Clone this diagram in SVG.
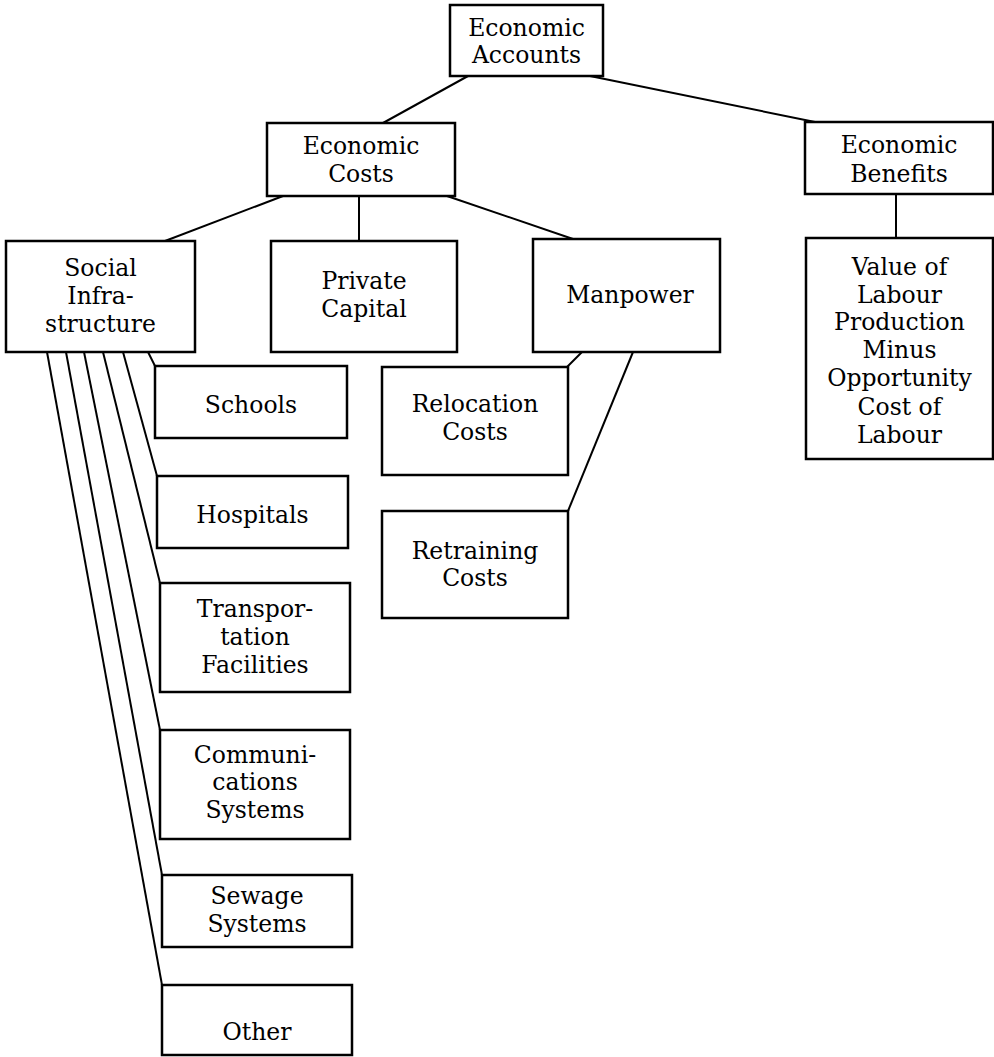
<svg xmlns="http://www.w3.org/2000/svg" width="994" height="1057" viewBox="0 0 994 1057">
<style>
rect{fill:#fff;stroke:#000;stroke-width:2.5}
line{stroke:#000;stroke-width:2}
text{font-family:"DejaVu Serif","Liberation Serif",serif;font-size:23.5px;fill:#000;text-anchor:middle}
</style>
<rect x="0" y="0" width="994" height="1057" style="stroke:none"/>
<g id="connectors">
<line x1="468" y1="76" x2="383" y2="123"/>
<line x1="590" y1="76" x2="815" y2="122"/>
<line x1="283" y1="196" x2="165" y2="241"/>
<line x1="359" y1="196" x2="359" y2="241"/>
<line x1="447" y1="196" x2="573" y2="239"/>
<line x1="896" y1="194" x2="896" y2="238"/>
<line x1="582" y1="352" x2="567" y2="367"/>
<line x1="633" y1="352" x2="568" y2="511"/>
<line x1="148" y1="352" x2="155" y2="366"/>
<line x1="123" y1="352" x2="157" y2="476"/>
<line x1="103" y1="352" x2="160" y2="583"/>
<line x1="84" y1="352" x2="160" y2="730"/>
<line x1="66" y1="352" x2="162" y2="875"/>
<line x1="47" y1="352" x2="162" y2="985"/>
</g>
<g id="economic-accounts"><rect x="450" y="5" width="153" height="71"/><text x="526.5" y="36">Economic</text><text x="526.5" y="63">Accounts</text></g>
<g id="economic-costs"><rect x="267" y="123" width="188" height="73"/><text x="361" y="154">Economic</text><text x="361" y="182">Costs</text></g>
<g id="economic-benefits"><rect x="805" y="122" width="188" height="72"/><text x="899" y="153">Economic</text><text x="899" y="182">Benefits</text></g>
<g id="value-labour"><rect x="806" y="238" width="187" height="221"/><text x="899.5" y="275">Value of</text><text x="899.5" y="303">Labour</text><text x="899.5" y="330">Production</text><text x="899.5" y="358">Minus</text><text x="899.5" y="386">Opportunity</text><text x="899.5" y="415">Cost of</text><text x="899.5" y="443">Labour</text></g>
<g id="social-infrastructure"><rect x="6" y="241" width="189" height="111"/><text x="100.5" y="276">Social</text><text x="100.5" y="304">Infra-</text><text x="100.5" y="332">structure</text></g>
<g id="private-capital"><rect x="271" y="241" width="186" height="111"/><text x="364" y="289">Private</text><text x="364" y="317">Capital</text></g>
<g id="manpower"><rect x="533" y="239" width="187" height="113"/><text x="630" y="303">Manpower</text></g>
<g id="relocation-costs"><rect x="382" y="367" width="186" height="108"/><text x="475" y="412">Relocation</text><text x="475" y="440">Costs</text></g>
<g id="retraining-costs"><rect x="382" y="511" width="186" height="107"/><text x="475" y="559">Retraining</text><text x="475" y="586">Costs</text></g>
<g id="schools"><rect x="155" y="366" width="192" height="72"/><text x="251" y="413">Schools</text></g>
<g id="hospitals"><rect x="157" y="476" width="191" height="72"/><text x="252.5" y="523">Hospitals</text></g>
<g id="transportation"><rect x="160" y="583" width="190" height="109"/><text x="255" y="617">Transpor-</text><text x="255" y="645">tation</text><text x="255" y="673">Facilities</text></g>
<g id="communications"><rect x="160" y="730" width="190" height="109"/><text x="255" y="763">Communi-</text><text x="255" y="790">cations</text><text x="255" y="818">Systems</text></g>
<g id="sewage"><rect x="162" y="875" width="190" height="72"/><text x="257" y="904">Sewage</text><text x="257" y="932">Systems</text></g>
<g id="other"><rect x="162" y="985" width="190" height="70"/><text x="257" y="1040">Other</text></g>
</svg>
